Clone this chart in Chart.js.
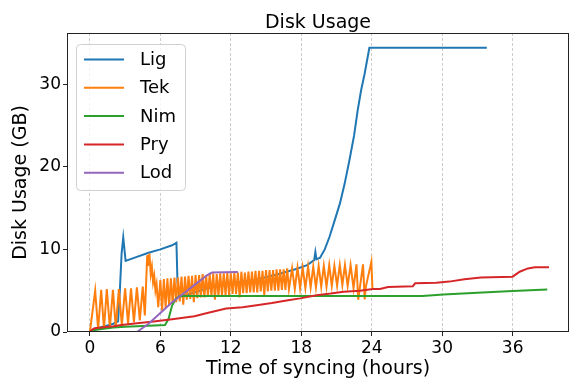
<!DOCTYPE html>
<html>
<head>
<meta charset="utf-8">
<script src="https://cdn.jsdelivr.net/npm/chart.js@4/dist/chart.umd.min.js"></script>
<style>
  html, body { margin: 0; padding: 0; background: #fff; }
  canvas { display: block; }
</style>
</head>
<body>
<canvas id="diskChart" width="570" height="381"></canvas>
<script>
// series (hours, GB)
const ligHours = [0, 0.5, 1, 1.5, 2, 2.4, 2.55, 2.7, 2.84, 3.04, 4, 5, 6, 7, 7.37, 7.46, 7.6, 8.5, 10, 12, 14, 16, 17.5, 18.5, 19.1, 19.2, 19.3, 19.6, 20, 20.4, 20.8, 21.3, 21.7, 22.1, 22.5, 22.8, 23.1, 23.4, 23.8, 33.8];
const ligGB = [0, 0.35, 0.6, 0.8, 1.0, 1.3, 5.0, 9.5, 11.45, 8.6, 9.1, 9.6, 10.0, 10.5, 10.8, 6.0, 4.4, 4.6, 5.3, 5.9, 6.3, 7.0, 7.6, 8.1, 8.7, 9.7, 8.8, 9.0, 10.0, 11.5, 13.3, 15.6, 18.0, 20.8, 23.8, 26.8, 29.3, 31.3, 34.4, 34.4];

const tekHours = [0, 0.45, 0.7, 0.96, 1.2, 1.44, 1.7, 1.96, 2.2, 2.47, 2.72, 3.0, 3.25, 3.5, 3.75, 4.0, 4.25, 4.5, 4.68, 4.88, 4.95, 5.07, 5.18, 5.28, 5.38, 5.48, 5.58, 5.68, 5.82,
  6.0, 6.15, 6.3, 6.45, 6.6, 6.75, 6.9, 7.05, 7.2, 7.35, 7.5, 7.65, 7.8, 7.95, 8.1, 8.25, 8.4, 8.55, 8.7, 8.85, 9.0, 9.15, 9.3, 9.45, 9.6, 9.75, 9.9, 10.05,
  10.2, 10.35, 10.5, 10.65, 10.8, 10.95, 11.1, 11.25, 11.4, 11.55, 11.7, 11.85, 12.0, 12.15, 12.3, 12.45, 12.6, 12.75, 12.9, 13.05, 13.2, 13.35, 13.5, 13.65,
  13.8, 13.95, 14.1, 14.25, 14.4, 14.55, 14.7, 14.85, 15.0, 15.15, 15.3, 15.45, 15.6, 15.75, 15.9, 16.05, 16.2, 16.35, 16.5, 16.65, 16.8, 16.95,
  17.22, 17.45, 17.68, 17.9, 18.12, 18.35, 18.58, 18.8, 19.02, 19.25, 19.48, 19.7, 19.92, 20.15, 20.38, 20.6, 20.82, 21.05, 21.28, 21.5, 21.72, 21.95, 22.2, 22.45,
  22.7, 22.85, 23.26, 23.4, 23.5, 23.97, 24.06];
const tekGB = [0, 5.0, 0.3, 5.1, 0.4, 5.2, 0.5, 5.1, 0.6, 5.2, 0.8, 5.3, 1.0, 5.3, 1.2, 5.4, 1.4, 5.5, 2.0, 9.3, 8.0, 9.5, 7.0, 7.9, 6.0, 6.8, 5.0, 5.8, 3.0,
  6.3, 2.6, 6.4, 2.9, 6.5, 3.2, 6.5, 3.4, 6.6, 3.6, 6.6, 3.7, 6.7, 3.3, 6.7, 3.9, 6.8, 4.0, 6.8, 3.6, 6.9, 4.1, 6.9, 4.2, 7.0, 4.2, 6.9, 4.3,
  7.0, 4.3, 7.1, 3.9, 7.0, 4.4, 7.1, 4.4, 7.1, 4.5, 7.2, 4.5, 7.1, 4.6, 7.2, 4.6, 7.2, 4.2, 7.3, 4.7, 7.2, 4.7, 7.3, 4.8,
  7.3, 4.8, 7.4, 4.8, 7.4, 4.9, 7.4, 4.5, 7.5, 4.9, 7.5, 5.0, 7.5, 5.0, 7.6, 5.0, 7.6, 5.1, 7.6, 5.1, 7.7, 5.2,
  7.7, 5.2, 7.8, 5.3, 7.8, 5.3, 7.9, 5.4, 7.9, 5.4, 8.0, 5.5, 8.0, 5.5, 8.1, 5.6, 8.0, 5.6, 8.1, 5.7, 8.1, 5.6, 8.1, 5.3,
  8.2, 3.9, 8.2, 3.95, 5.5, 8.5, 5.3];

const nimHours = [0, 0.3, 1, 2, 3, 4, 5, 6.4, 6.7, 7.0, 7.3, 7.6, 8, 12, 20, 28.3, 30.1, 33, 36, 38.95];
const nimGB = [0, 0.2, 0.35, 0.55, 0.65, 0.7, 0.75, 0.85, 1.6, 3.2, 4.0, 4.3, 4.35, 4.35, 4.35, 4.35, 4.55, 4.75, 4.96, 5.16];

const pryHours = [0, 0.2, 0.4, 1, 2, 2.7, 4, 5.25, 7, 8.9, 10, 11.6, 13, 14.2, 15.5, 17, 17.9, 19.3, 20.5, 21.6, 23, 24.1, 24.7, 25.4, 27.5, 27.7, 29.5, 30.6, 31.9, 33.3, 36.0, 36.6, 37.3, 37.9, 39.1];
const pryGB = [0, 0.3, 0.45, 0.55, 0.7, 0.85, 1.05, 1.25, 1.55, 1.9, 2.3, 2.85, 3.0, 3.25, 3.5, 3.87, 4.07, 4.45, 4.65, 4.87, 5.0, 5.2, 5.2, 5.45, 5.55, 5.9, 5.97, 6.1, 6.4, 6.6, 6.7, 7.3, 7.7, 7.85, 7.85];

const lodHours = [0, 4.0, 5, 6, 7, 8, 9, 10, 10.4, 12.6];
const lodGB = [0, 0, 1.0, 2.3, 3.6, 4.7, 5.8, 6.9, 7.2, 7.25];

const seriesNames = ['Lig', 'Tek', 'Nim', 'Pry', 'Lod'];
const seriesColors = ['#1f77b4', '#ff7f0e', '#2ca02c', '#d62728', '#9467bd'];
const xTicks = [0, 6, 12, 18, 24, 30, 36];
const yTicks = [0, 10, 20, 30];

const FONT = 'DejaVu Sans';

function points(hours, gb) {
    return hours.map((h, i) => ({x: h, y: gb[i]}));
}

const allSeries = [
    points(ligHours, ligGB),
    points(tekHours, tekGB),
    points(nimHours, nimGB),
    points(pryHours, pryGB),
    points(lodHours, lodGB)
];

// title, axis labels, legend and frame like matplotlib
const extras = {
    id: 'extras',
    afterDraw(chart) {
        const ctx = chart.ctx;
        const a = chart.chartArea;
        ctx.save();
        ctx.strokeStyle = '#222';
        ctx.lineWidth = 1;
        ctx.strokeRect(a.left + 0.5, a.top + 0.5, a.right - a.left - 1, a.bottom - a.top - 1);

        const cx = (a.left + a.right) / 2;
        ctx.fillStyle = '#000';
        ctx.textAlign = 'center';
        ctx.textBaseline = 'alphabetic';
        ctx.font = '19px "' + FONT + '"';
        ctx.fillText('Disk Usage', cx, 28);
        ctx.fillText('Time of syncing (hours)', cx, 374);

        ctx.save();
        ctx.translate(21.5, (a.top + a.bottom) / 2);
        ctx.rotate(-Math.PI / 2);
        ctx.textBaseline = 'middle';
        ctx.fillText('Disk Usage (GB)', 0, 0);
        ctx.restore();

        // legend box
        const bx = 76.5, by = 44.5, bw = 109, bh = 146, r = 4;
        ctx.beginPath();
        ctx.moveTo(bx + r, by);
        ctx.arcTo(bx + bw, by, bx + bw, by + bh, r);
        ctx.arcTo(bx + bw, by + bh, bx, by + bh, r);
        ctx.arcTo(bx, by + bh, bx, by, r);
        ctx.arcTo(bx, by, bx + bw, by, r);
        ctx.closePath();
        ctx.fillStyle = 'rgba(255,255,255,0.8)';
        ctx.fill();
        ctx.strokeStyle = '#d0d0d0';
        ctx.stroke();

        ctx.font = '18px "' + FONT + '"';
        ctx.textAlign = 'left';
        ctx.textBaseline = 'middle';
        seriesNames.forEach((name, i) => {
            const y = 59.5 + i * 28.3;
            ctx.strokeStyle = seriesColors[i];
            ctx.lineWidth = 2;
            ctx.beginPath();
            ctx.moveTo(84, y);
            ctx.lineTo(124, y);
            ctx.stroke();
            ctx.fillStyle = '#000';
            ctx.fillText(name, 140, y + 1);
        });
        ctx.restore();
    }
};

const ctx = document.getElementById('diskChart').getContext('2d');
new Chart(ctx, {
    type: 'scatter',
    data: {
        datasets: allSeries.map((pts, i) => ({
            label: seriesNames[i],
            data: pts,
            showLine: true,
            borderColor: seriesColors[i],
            backgroundColor: seriesColors[i],
            borderWidth: 2,
            pointRadius: 0,
            tension: 0,
            // later series drawn on top, like matplotlib
            order: seriesNames.length - i
        }))
    },
    options: {
        responsive: false,
        animation: false,
        devicePixelRatio: 1,
        layout: {padding: {left: 0, right: 1, top: 33, bottom: 0}},
        plugins: {
            legend: {display: false},
            title: {display: false},
            tooltip: {enabled: false}
        },
        scales: {
            x: {
                type: 'linear',
                min: -1.95,
                max: 40.8,
                afterBuildTicks: scale => { scale.ticks = xTicks.map(v => ({value: v})); },
                afterFit: scale => { scale.height = 49; },
                border: {display: false, dash: [3, 2]},
                grid: {
                    color: '#c0c0c0',
                    lineWidth: 0.8,
                    tickColor: '#222',
                    tickBorderDash: [],
                    tickLength: 4,
                    tickWidth: 1
                },
                ticks: {
                    color: '#000',
                    padding: 2,
                    maxRotation: 0,
                    font: {family: FONT, size: 17}
                }
            },
            y: {
                type: 'linear',
                min: 0,
                max: 36.2,
                afterBuildTicks: scale => { scale.ticks = yTicks.map(v => ({value: v})); },
                afterFit: scale => { scale.width = 67; },
                border: {display: false},
                grid: {
                    drawOnChartArea: false,
                    tickColor: '#222',
                    tickLength: 4,
                    tickWidth: 1
                },
                ticks: {
                    color: '#000',
                    padding: 2,
                    font: {family: FONT, size: 17}
                }
            }
        }
    },
    plugins: [extras]
});
</script>
</body>
</html>
